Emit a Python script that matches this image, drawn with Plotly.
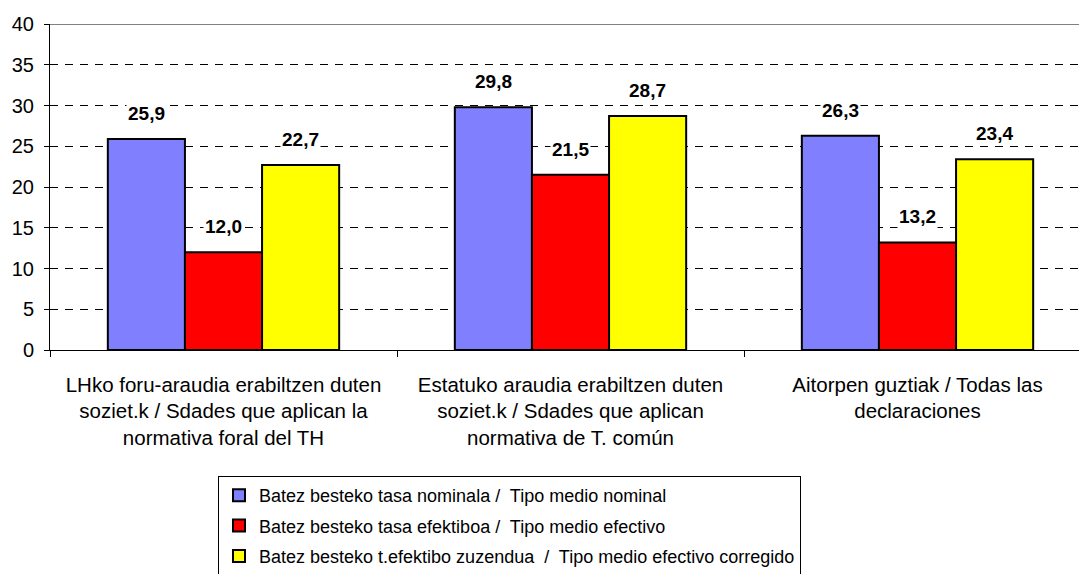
import plotly.graph_objects as go

CATEGORIES = [
    "LHko foru-araudia erabiltzen duten<br>soziet.k / Sdades que aplican la<br>normativa foral del TH",
    "Estatuko araudia erabiltzen duten<br>soziet.k / Sdades que aplican<br>normativa de T. común",
    "Aitorpen guztiak / Todas las<br>declaraciones",
]
SERIES_NAMES = [
    "Batez besteko tasa nominala /  Tipo medio nominal",
    "Batez besteko tasa efektiboa /  Tipo medio efectivo",
    "Batez besteko t.efektibo zuzendua  /  Tipo medio efectivo corregido",
]
NOMINAL = [25.9, 29.8, 26.3]
EFFECTIVE = [12.0, 21.5, 13.2]
CORRECTED = [22.7, 28.7, 23.4]
SERIES_VALUES = [NOMINAL, EFFECTIVE, CORRECTED]
COLORS = ["#8080FF", "#FF0000", "#FFFF00"]

FONT = "Arial, 'Liberation Sans', sans-serif"
BARGAP = 1 / 3
# the original chart runs past the right edge of the picture
FIG_W, FIG_H = 1095, 574
PLOT_L, PLOT_R, PLOT_T, PLOT_B = 50, 1091, 24, 350

fig = go.Figure()
for i, (name, vals) in enumerate(zip(SERIES_NAMES, SERIES_VALUES)):
    fig.add_trace(
        go.Bar(
            x=CATEGORIES,
            y=vals,
            name=name,
            legendgroup=f"g{i}",
            marker=dict(color=COLORS[i], line=dict(color="black", width=2)),
        )
    )

# value labels above each bar
bar_w = (1 - BARGAP) / len(SERIES_VALUES)
for i, vals in enumerate(SERIES_VALUES):
    for j, v in enumerate(vals):
        fig.add_annotation(
            x=j + (i - 1) * bar_w,
            y=v,
            xref="x",
            yref="y",
            text=f"<b>{v:.1f}</b>".replace(".", ","),
            showarrow=False,
            yanchor="bottom",
            yshift=13,
            bgcolor="white",
            font=dict(family=FONT, size=19, color="black"),
        )

fig.add_shape(
    type="line", xref="paper", yref="y", x0=0, x1=1, y0=40, y1=40,
    line=dict(color="#808080", width=2),
)

plot_w = PLOT_R - PLOT_L
plot_h = PLOT_B - PLOT_T
fig.update_layout(
    width=FIG_W,
    height=FIG_H,
    margin=dict(
        l=PLOT_L, r=FIG_W - PLOT_R, t=PLOT_T, b=FIG_H - PLOT_B, autoexpand=False
    ),
    paper_bgcolor="white",
    plot_bgcolor="white",
    font=dict(family=FONT, size=18, color="black"),
    barmode="group",
    bargap=BARGAP,
    bargroupgap=0,
    showlegend=True,
    legend=dict(
        x=(218 - PLOT_L) / plot_w,
        y=(PLOT_B - 476) / plot_h,
        xanchor="left",
        yanchor="top",
        bordercolor="black",
        borderwidth=1,
        traceorder="grouped",
        tracegroupgap=4,
        font=dict(family=FONT, size=18, color="black"),
        itemwidth=30,
    ),
)
fig.update_yaxes(
    range=[0, 40],
    dtick=5,
    showline=True,
    linecolor="black",
    linewidth=1,
    ticks="outside",
    ticklen=5,
    tickcolor="black",
    ticklabelstandoff=6,
    showgrid=True,
    gridcolor="black",
    griddash="8px,7px",
    gridwidth=1,
    zeroline=False,
    automargin=False,
    tickfont=dict(size=20),
)
fig.update_xaxes(
    showline=True,
    linecolor="black",
    linewidth=1,
    ticks="outside",
    tickson="boundaries",
    ticklen=6,
    tickcolor="black",
    ticklabelstandoff=16,
    tickangle=0,
    automargin=False,
    tickfont=dict(size=20.5),
)

fig.write_html("out.html", config={"displayModeBar": False})

# drop the default body margin so the figure sits at the page corner
with open("out.html", encoding="utf-8") as f:
    html = f.read()
html = html.replace(
    "<head>",
    "<head><style>html,body{margin:0;padding:0;overflow:hidden;}</style>",
    1,
)
with open("out.html", "w", encoding="utf-8") as f:
    f.write(html)
